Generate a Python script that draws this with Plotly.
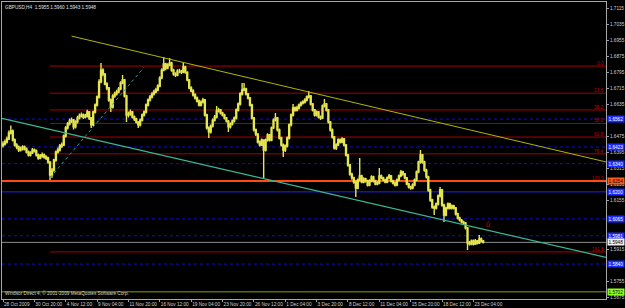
import plotly.graph_objects as go

# ---------------- data ----------------
symbol_header = "GBPUSD,H4  1.5955 1.5960 1.5943 1.5948"
copyright_text = "Windsor Direct 4, © 2001-2009 MetaQuotes Software Corp."

date_labels = ["28 Oct 2009", "30 Oct 20:00", "4 Nov 12:00", "9 Nov 04:00", "11 Nov 20:00",
               "16 Nov 12:00", "19 Nov 04:00", "23 Nov 20:00", "26 Nov 12:00", "1 Dec 04:00",
               "3 Dec 20:00", "8 Dec 12:00", "11 Dec 04:00", "15 Dec 20:00", "18 Dec 12:00",
               "23 Dec 04:00"]
date_label_bars = [0, 16, 32, 48, 64, 80, 96, 112, 128, 144, 160, 176, 192, 208, 224, 240]

price_ticks = [1.7115, 1.7035, 1.6955, 1.6875, 1.6795, 1.6715, 1.6635, 1.6475, 1.6395,
               1.6315, 1.6235, 1.6155, 1.5915, 1.5755, 1.5675]

# prices in pips above 1.5000 (H4 bars)
first_open = 1430
close_pips = [
    1438, 1448, 1463, 1493, 1503, 1458, 1433, 1423, 1408, 1413,
    1423, 1413, 1398, 1383, 1393, 1408, 1403, 1383, 1368, 1378,
    1383, 1373, 1368, 1348, 1283, 1308, 1358, 1398, 1408, 1428,
    1433, 1478, 1518, 1538, 1553, 1558, 1523, 1548, 1568, 1577,
    1582, 1572, 1577, 1597, 1567, 1533, 1597, 1632, 1672, 1747,
    1806, 1786, 1737, 1717, 1657, 1622, 1677, 1687, 1697, 1712,
    1742, 1757, 1677, 1582, 1587, 1597, 1572, 1562, 1547, 1533,
    1557, 1582, 1597, 1632, 1657, 1672, 1687, 1697, 1707, 1727,
    1767, 1806, 1836, 1816, 1831, 1841, 1806, 1786, 1781, 1801,
    1801, 1796, 1821, 1796, 1757, 1717, 1702, 1682, 1667, 1652,
    1632, 1647, 1657, 1582, 1518, 1498, 1528, 1557, 1572, 1602,
    1607, 1592, 1582, 1567, 1552, 1523, 1538, 1552, 1567, 1607,
    1637, 1687, 1707, 1712, 1687, 1667, 1632, 1567, 1508, 1488,
    1448, 1433, 1458, 1408, 1458, 1483, 1458, 1518, 1557, 1567,
    1508, 1468, 1433, 1408, 1428, 1468, 1533, 1582, 1617, 1607,
    1617, 1632, 1642, 1647, 1657, 1672, 1677, 1637, 1607, 1582,
    1597, 1572, 1567, 1627, 1637, 1607, 1548, 1508, 1473, 1418,
    1433, 1458, 1448, 1463, 1433, 1383, 1333, 1288, 1269, 1249,
    1219, 1259, 1279, 1249, 1264, 1254, 1234, 1254, 1274, 1254,
    1239, 1244, 1279, 1269, 1259, 1249, 1269, 1279, 1254, 1244,
    1234, 1259, 1279, 1299, 1289, 1269, 1239, 1224, 1219, 1234,
    1259, 1299, 1348, 1383, 1348, 1308, 1274, 1209, 1159, 1124,
    1119, 1139, 1179, 1209, 1134, 1084, 1119, 1139, 1119, 1129,
    1119, 1089, 1069, 1059, 1049, 1044, 1020, 945, 940, 955,
    940, 955, 945, 965, 955, 948]
high_pips = [
    1452, 1460, 1475, 1505, 1530, 1510, 1465, 1442, 1430, 1425,
    1432, 1430, 1420, 1405, 1402, 1418, 1415, 1410, 1390, 1388,
    1395, 1390, 1382, 1374, 1352, 1318, 1365, 1405, 1420, 1438,
    1445, 1485, 1528, 1548, 1565, 1570, 1562, 1556, 1578, 1590,
    1595, 1590, 1588, 1608, 1602, 1572, 1603, 1640, 1680, 1760,
    1841, 1815, 1792, 1745, 1722, 1665, 1685, 1698, 1708, 1722,
    1750, 1782, 1762, 1683, 1600, 1610, 1602, 1580, 1568, 1552,
    1565, 1590, 1605, 1640, 1665, 1682, 1695, 1708, 1718, 1735,
    1775, 1815, 1871, 1842, 1840, 1866, 1848, 1812, 1795, 1810,
    1812, 1808, 1846, 1828, 1800, 1762, 1725, 1710, 1690, 1675,
    1660, 1655, 1668, 1662, 1588, 1525, 1535, 1565, 1582, 1627,
    1618, 1612, 1598, 1588, 1572, 1558, 1545, 1560, 1575, 1615,
    1645, 1695, 1742, 1742, 1718, 1692, 1672, 1638, 1572, 1515,
    1492, 1455, 1465, 1462, 1465, 1492, 1488, 1525, 1565, 1592,
    1572, 1515, 1474, 1440, 1435, 1475, 1540, 1590, 1637, 1625,
    1628, 1640, 1650, 1656, 1666, 1680, 1702, 1682, 1642, 1612,
    1605, 1602, 1580, 1635, 1662, 1642, 1612, 1552, 1515, 1478,
    1442, 1466, 1465, 1472, 1468, 1438, 1388, 1338, 1295, 1275,
    1256, 1266, 1368, 1285, 1272, 1270, 1260, 1262, 1282, 1280,
    1260, 1252, 1318, 1286, 1275, 1265, 1276, 1288, 1284, 1260,
    1250, 1266, 1286, 1308, 1305, 1294, 1274, 1245, 1230, 1242,
    1266, 1306, 1355, 1408, 1388, 1354, 1314, 1280, 1215, 1165,
    1132, 1146, 1186, 1224, 1214, 1140, 1126, 1146, 1145, 1136,
    1135, 1124, 1095, 1075, 1065, 1056, 1050, 1025, 955, 962,
    962, 965, 960, 985, 972, 960]
low_pips = [
    1420, 1430, 1440, 1458, 1485, 1450, 1425, 1412, 1398, 1400,
    1405, 1405, 1390, 1375, 1376, 1388, 1395, 1376, 1360, 1362,
    1370, 1365, 1358, 1340, 1258, 1270, 1300, 1350, 1390, 1400,
    1418, 1428, 1470, 1510, 1530, 1542, 1510, 1515, 1540, 1560,
    1570, 1562, 1565, 1570, 1558, 1518, 1528, 1590, 1625, 1665,
    1740, 1775, 1730, 1705, 1648, 1597, 1615, 1668, 1680, 1690,
    1705, 1735, 1670, 1547, 1570, 1578, 1565, 1552, 1540, 1518,
    1525, 1550, 1575, 1590, 1625, 1650, 1665, 1680, 1690, 1700,
    1720, 1760, 1800, 1805, 1810, 1825, 1798, 1778, 1772, 1775,
    1790, 1786, 1790, 1788, 1750, 1710, 1695, 1675, 1660, 1645,
    1625, 1625, 1640, 1575, 1510, 1468, 1490, 1520, 1550, 1565,
    1595, 1585, 1575, 1560, 1545, 1498, 1515, 1530, 1545, 1560,
    1600, 1630, 1680, 1700, 1680, 1660, 1625, 1560, 1500, 1478,
    1440, 1425, 1428, 1268, 1400, 1450, 1450, 1452, 1512, 1550,
    1500, 1460, 1425, 1373, 1398, 1420, 1460, 1525, 1575, 1598,
    1600, 1610, 1625, 1635, 1640, 1650, 1665, 1630, 1600, 1575,
    1575, 1565, 1558, 1562, 1620, 1600, 1540, 1500, 1465, 1410,
    1408, 1428, 1440, 1442, 1425, 1376, 1325, 1280, 1260, 1240,
    1174, 1212, 1252, 1242, 1242, 1246, 1226, 1228, 1248, 1246,
    1232, 1232, 1238, 1262, 1252, 1242, 1243, 1262, 1246, 1236,
    1226, 1228, 1252, 1272, 1280, 1262, 1232, 1216, 1210, 1212,
    1228, 1252, 1292, 1340, 1340, 1300, 1266, 1200, 1150, 1116,
    1084, 1112, 1132, 1172, 1126, 1049, 1078, 1112, 1112, 1112,
    1112, 1082, 1062, 1052, 1042, 1036, 1012, 910, 932, 934,
    932, 935, 938, 940, 948, 943]

# Fibonacci retracement object
fib_levels = [0.0, 23.6, 38.2, 50.0, 61.8, 76.4, 100.0, 161.8]
fib_high = 1.6826
fib_low = 1.6254
fib_start_bar = 24
fib_diag = [(24, 1.6270), (72, 1.6820)]

# horizontal line objects
blue_dotted_levels = [1.6562, 1.6423, 1.6340, 1.6065, 1.5981, 1.5840]
blue_solid_levels = [1.6200]
orange_level = 1.6254
bid_level = 1.5948
green_level = 1.5702

# trend line anchors (bar index, price)
yellow_trend = [(35, 1.6975), (156, 1.6697)]
teal_trend = [(0, 1.6564), (245, 1.6014)]

alert_point = (247.4, 1.6035)

# ---------------- build ----------------
n = len(close_pips)
bars = list(range(n))
to_price = lambda v: 1.5 + v / 10000.0
closes = [to_price(v) for v in close_pips]
opens = [to_price(first_open)] + closes[:-1]
highs = [to_price(v) for v in high_pips]
lows = [to_price(v) for v in low_pips]

X0, X1 = -0.51, 307.65
Y0, Y1 = 1.5666, 1.7145
FONT = "Liberation Sans"

fig = go.Figure()

shapes = []
annotations = []

def hline(price, color, width=1, dash="solid", x0=X0):
    shapes.append(dict(type="line", xref="x", yref="y", x0=x0, x1=X1, y0=price, y1=price,
                       line=dict(color=color, width=width, dash=dash), layer="below"))

def axis_box(price, bg, fg):
    annotations.append(dict(xref="paper", yref="y", x=1, y=price, xanchor="left", yanchor="middle",
                            xshift=1, text=f"{price:.4f}", showarrow=False, bgcolor=bg,
                            borderpad=0.5, font=dict(size=4.7, color=fg, family=FONT)))

for p in blue_dotted_levels:
    hline(p, "#1010c8", 1, "dot")
for p in blue_solid_levels:
    hline(p, "#1414b4", 1.3)
hline(bid_level, "#8c8c8c", 1)
hline(green_level, "#5a6a00", 1.3)

fib_range = fib_high - fib_low
for lv in fib_levels:
    p = fib_high - lv / 100.0 * fib_range
    hline(p, "#a80000", 1, "solid", x0=fib_start_bar)
    annotations.append(dict(xref="paper", yref="y", x=0.9985, y=p, xanchor="right", yanchor="bottom",
                            text=f"{lv:.1f}", showarrow=False,
                            font=dict(size=4.7, color="#c00000", family=FONT),
                            borderpad=0, yshift=-1))
hline(orange_level, "#ff4a10", 2)

def ray(anchors, extend_left):
    (xa, ya), (xb, yb) = anchors
    s = (yb - ya) / (xb - xa)
    xs = X0 if extend_left else xa
    return xs, ya + s * (xs - xa), X1, ya + s * (X1 - xa)

xs, ys, xe, ye = ray(yellow_trend, False)
shapes.append(dict(type="line", xref="x", yref="y", x0=xs, y0=ys, x1=xe, y1=ye,
                   line=dict(color="#b4b400", width=1)))
xs, ys, xe, ye = ray(teal_trend, True)
shapes.append(dict(type="line", xref="x", yref="y", x0=xs, y0=ys, x1=xe, y1=ye,
                   line=dict(color="#3cb896", width=1.2)))
shapes.append(dict(type="line", xref="x", yref="y", x0=fib_diag[0][0], y0=fib_diag[0][1],
                   x1=fib_diag[1][0], y1=fib_diag[1][1],
                   line=dict(color="#1ea0a0", width=1, dash="dot")))

fig.add_trace(go.Candlestick(
    x=bars, open=opens, high=highs, low=lows, close=closes,
    increasing=dict(line=dict(color="#e6e650", width=1.4), fillcolor="#7a7a1e"),
    decreasing=dict(line=dict(color="#e6e650", width=1.4), fillcolor="#e6e650"),
    whiskerwidth=0, showlegend=False, hoverinfo="skip"))

fig.add_trace(go.Scatter(x=[alert_point[0]], y=[alert_point[1]], mode="text", text=["ů"],
                         textfont=dict(size=8, color="#c00000"), showlegend=False, hoverinfo="skip"))

for p in blue_dotted_levels + blue_solid_levels:
    axis_box(p, "#1a2cff", "#ffffff")
axis_box(orange_level, "#ff5a1a", "#000000")
axis_box(bid_level, "#f0f0f0", "#000000")
axis_box(green_level, "#8cff20", "#000000")

annotations.append(dict(xref="paper", yref="paper", x=0.002, y=0.997, xanchor="left", yanchor="top",
                        text=symbol_header, showarrow=False,
                        font=dict(size=4.7, color="#e0e0e0", family=FONT)))
annotations.append(dict(xref="paper", yref="paper", x=0.002, y=0.004, xanchor="left", yanchor="bottom",
                        text=copyright_text, showarrow=False,
                        font=dict(size=4.7, color="#d0d0d0", family=FONT)))

fig.update_layout(
    width=625, height=308,
    margin=dict(l=2, r=19, t=2, b=9, autoexpand=False),
    paper_bgcolor="#000000", plot_bgcolor="#000000",
    shapes=shapes, annotations=annotations,
    font=dict(family=FONT, size=4.7, color="#d0d0d0"),
    xaxis=dict(range=[X0, X1], rangeslider=dict(visible=False), showgrid=False, zeroline=False,
               tickvals=date_label_bars, ticktext=date_labels, ticklabelposition="outside right",
               tickangle=0, automargin=False,
               ticks="outside", ticklen=2, tickcolor="#a0a0a0",
               tickfont=dict(size=4.7, color="#d0d0d0", family=FONT),
               showline=True, mirror=True, linecolor="#a8a8a8", linewidth=1),
    yaxis=dict(range=[Y0, Y1], side="right", showgrid=False, zeroline=False, automargin=False,
               tickvals=price_ticks, tickformat=".4f", ticks="outside", ticklen=2,
               tickcolor="#a0a0a0", tickfont=dict(size=4.7, color="#d0d0d0", family=FONT),
               showline=True, mirror=True, linecolor="#a8a8a8", linewidth=1),
)

fig.write_html("out.html")
